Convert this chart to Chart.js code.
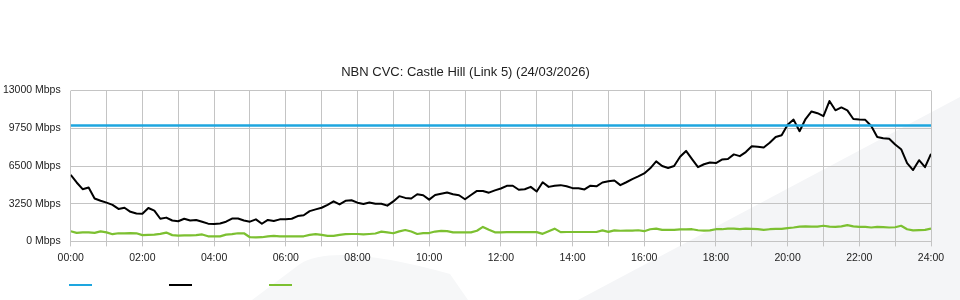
<!DOCTYPE html>
<html>
<head>
<meta charset="utf-8">
<script src="https://cdn.jsdelivr.net/npm/chart.js@4/dist/chart.umd.min.js"></script>
<style>
  html, body { margin: 0; padding: 0; background: #ffffff; }
  #wrap { width: 960px; height: 300px; position: relative; }
</style>
</head>
<body>
<div id="wrap"><canvas id="c" width="960" height="300"></canvas></div>
<script>
// ---- data ----
const chartTitle = 'NBN CVC: Castle Hill (Link 5) (24/03/2026)';
const sampleStepMinutes = 10; // one reading every 10 minutes, 00:00 .. 24:00
const capacityTimes = [0, 1440];
const capacityMbps = [10000, 10000];
const downloadMbps = [
  5745, 5080, 4500, 4640, 3700, 3500, 3340, 3150, 2800, 2900,
  2550, 2400, 2380, 2880, 2650, 1950, 2050, 1800, 1740, 1950,
  1800, 1850, 1700, 1530, 1510, 1550, 1700, 1970, 1970, 1800,
  1700, 1900, 1520, 1850, 1760, 1900, 1900, 1950, 2180, 2250,
  2610, 2760, 2900, 3150, 3450, 3190, 3500, 3550, 3340, 3220,
  3350, 3250, 3250, 3080, 3450, 3900, 3750, 3700, 4060, 3980,
  3600, 4000, 4100, 4210, 4060, 3980, 3630, 4000, 4350, 4350,
  4200, 4400, 4560, 4790, 4800, 4450, 4500, 4700, 4300, 5100,
  4700, 4800, 4850, 4750, 4590, 4590, 4480, 4800, 4750, 5080,
  5180, 5250, 4850, 5100, 5370, 5600, 5860, 6300, 6900, 6500,
  6330, 6500, 7300, 7800, 7100, 6400, 6650, 6800, 6750, 7050,
  7100, 7500, 7350, 7700, 8200, 8150, 8100, 8500, 9000, 9150,
  10050, 10500, 9500, 10550, 11200, 11050, 10800, 12100, 11300, 11550,
  11300, 10550, 10500, 10480, 9950, 9000, 8900, 8850, 8350, 7950,
  6750, 6150, 7000, 6400, 7550
];
const uploadMbps = [
  870, 730, 770, 780, 730, 860, 780, 620, 700, 700,
  720, 700, 540, 560, 580, 650, 760, 540, 500, 520,
  520, 540, 600, 440, 430, 430, 580, 620, 700, 700,
  360, 350, 360, 430, 480, 440, 430, 430, 430, 440,
  560, 620, 560, 480, 470, 560, 620, 640, 640, 600,
  640, 680, 840, 780, 700, 860, 980, 850, 640, 720,
  720, 850, 900, 880, 780, 780, 780, 780, 920, 1250,
  1000, 780, 780, 800, 800, 800, 800, 800, 800, 650,
  870, 1100, 800, 810, 810, 810, 810, 810, 810, 950,
  820, 950, 920, 930, 930, 960, 880, 1050, 1100, 990,
  990, 1000, 1030, 1030, 1050, 960, 930, 950, 1050, 1050,
  1100, 1100, 1060, 1100, 1080, 1060, 1000, 1050, 1080, 1080,
  1150, 1200, 1280, 1300, 1280, 1280, 1350, 1280, 1250, 1300,
  1400, 1300, 1250, 1250, 1200, 1250, 1230, 1200, 1220, 1350,
  1050, 950, 980, 1000, 1100
];
const yTickValues = [0, 3250, 6500, 9750, 13000];
const xLabelHours = ['00:00','02:00','04:00','06:00','08:00','10:00','12:00','14:00','16:00','18:00','20:00','22:00','24:00'];

// ---- helpers ----
const toPoints = (arr) => arr.map((v, i) => ({ x: i * sampleStepMinutes, y: v }));
const FONT = "'Liberation Sans', Arial, sans-serif";

const watermark = {
  id: 'watermark',
  beforeDraw(chart) {
    const ctx = chart.ctx;
    ctx.save();
    ctx.fillStyle = '#f4f5f7';
    ctx.beginPath();
    ctx.moveTo(578, 300);
    ctx.lineTo(960, 97);
    ctx.lineTo(960, 300);
    ctx.closePath();
    ctx.fill();
    ctx.fillStyle = '#f6f7f8';
    ctx.beginPath();
    ctx.moveTo(252, 300);
    ctx.lineTo(300, 264);
    ctx.quadraticCurveTo(335, 242, 450, 274);
    ctx.lineTo(468, 300);
    ctx.closePath();
    ctx.fill();
    ctx.restore();
  }
};

const lineLegend = {
  id: 'lineLegend',
  afterDraw(chart) {
    const ctx = chart.ctx;
    ctx.save();
    chart.data.datasets.forEach((ds, i) => {
      ctx.strokeStyle = ds.borderColor;
      ctx.lineWidth = 2;
      ctx.beginPath();
      ctx.moveTo(69 + i * 100, 285);
      ctx.lineTo(92 + i * 100, 285);
      ctx.stroke();
    });
    ctx.restore();
  }
};

new Chart(document.getElementById('c'), {
  type: 'line',
  data: {
    datasets: [
      {
        label: 'Capacity',
        data: capacityTimes.map((t, i) => ({ x: t, y: capacityMbps[i] })),
        borderColor: '#1ea6df',
        borderWidth: 2.5,
        pointRadius: 0,
        tension: 0
      },
      {
        label: 'Download',
        data: toPoints(downloadMbps),
        borderColor: '#000000',
        borderWidth: 2,
        pointRadius: 0,
        tension: 0,
        borderJoinStyle: 'round'
      },
      {
        label: 'Upload',
        data: toPoints(uploadMbps),
        borderColor: '#7cc031',
        borderWidth: 2.2,
        pointRadius: 0,
        tension: 0,
        borderJoinStyle: 'round'
      }
    ]
  },
  options: {
    responsive: false,
    animation: false,
    layout: { padding: { left: 0, right: 29, top: 0, bottom: 31 } },
    plugins: {
      legend: { display: false },
      tooltip: { enabled: false },
      title: {
        display: true,
        text: chartTitle,
        color: '#222',
        font: { family: FONT, size: 13, weight: 'normal' },
        padding: { top: 65, bottom: 10 }
      }
    },
    scales: {
      x: {
        type: 'linear',
        min: 0,
        max: 1440,
        grid: { color: '#c4c4c4', lineWidth: 1, tickLength: 5, drawTicks: true },
        border: { display: false },
        ticks: {
          stepSize: 60,
          autoSkip: false,
          maxRotation: 0,
          color: '#222',
          padding: 5,
          font: { family: FONT, size: 10.5 },
          callback: (v) => (v % 120 === 0 ? xLabelHours[v / 120] : '')
        }
      },
      y: {
        min: 0,
        max: 13000,
        afterBuildTicks: (axis) => { axis.ticks = yTickValues.map(v => ({ value: v })); },
        afterFit: (axis) => { axis.width = 70.7; },
        grid: { color: '#c4c4c4', lineWidth: 1, tickLength: 0, drawTicks: false },
        border: { display: false },
        ticks: {
          color: '#222',
          padding: 10,
          font: { family: FONT, size: 10.5 },
          callback: (v) => v + ' Mbps'
        }
      }
    }
  },
  plugins: [watermark, lineLegend]
});
</script>
</body>
</html>
